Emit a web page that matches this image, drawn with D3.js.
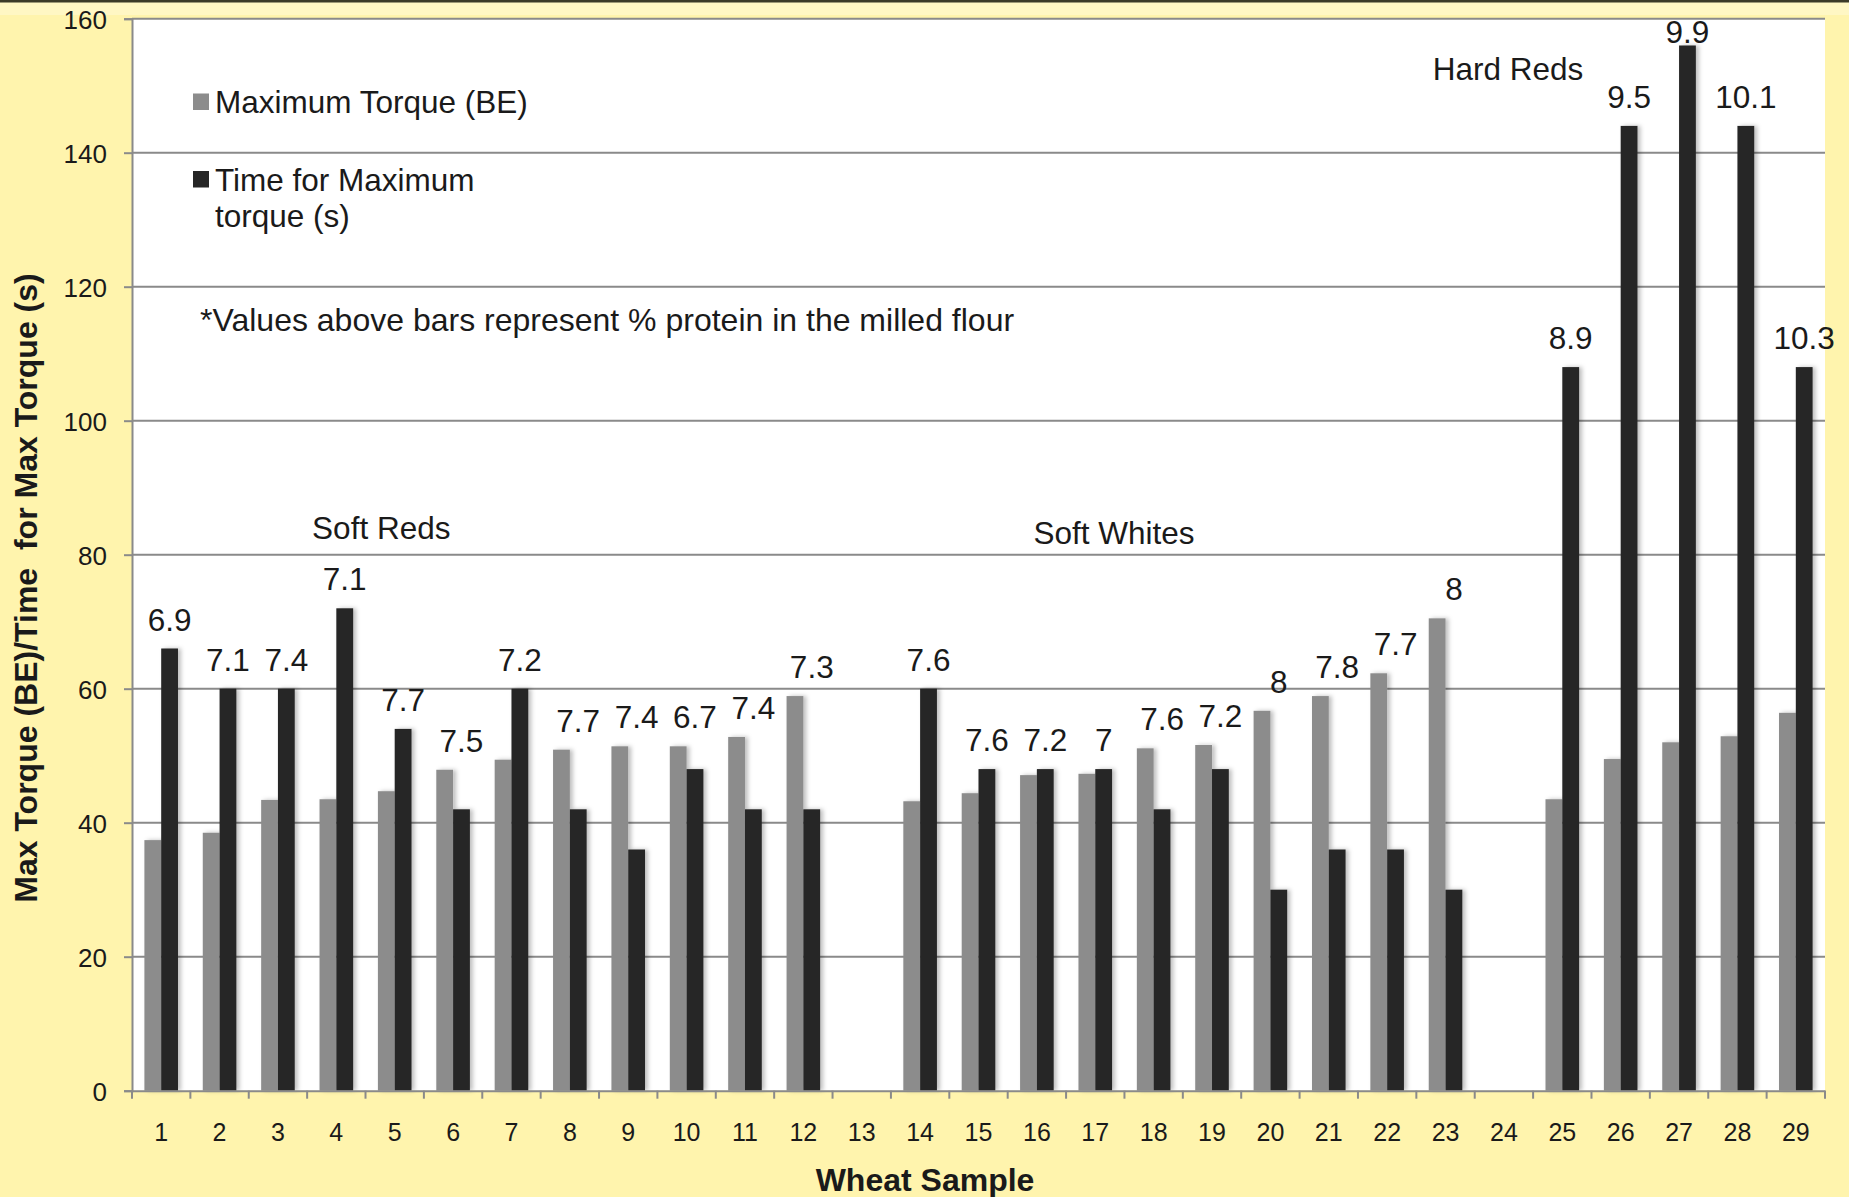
<!DOCTYPE html>
<html>
<head>
<meta charset="utf-8">
<script src="https://cdn.jsdelivr.net/npm/d3@7"></script>
<style>
  html, body { margin: 0; padding: 0; background: #FFF4AD; }
  svg { display: block; }
  text { font-family: "Liberation Sans", Arial, sans-serif; fill: #1a1a1a; }
</style>
</head>
<body>
<script>
// ---- data ----
const samples = [1,2,3,4,5,6,7,8,9,10,11,12,13,14,15,16,17,18,19,20,21,22,23,24,25,26,27,28,29];
const maxTorque = [37.4,38.5,43.4,43.5,44.7,47.9,49.4,50.9,51.4,51.4,52.8,58.9,null,43.2,44.4,47.1,47.3,51.1,51.6,56.7,58.9,62.3,70.5,null,43.5,49.5,52.0,52.9,56.4];
const timeMaxTorque = [66,60,60,72,54,42,60,42,36,48,42,42,null,60,48,48,48,42,48,30,36,36,30,null,108,144,156,144,108];
const protein = ["6.9","7.1","7.4","7.1","7.7","7.5","7.2","7.7","7.4","6.7","7.4","7.3",null,"7.6","7.6","7.2","7","7.6","7.2","8","7.8","7.7","8",null,"8.9","9.5","9.9","10.1","10.3"];
const yTicks = [0,20,40,60,80,100,120,140,160];
const seriesNames = ["Maximum Torque (BE)", "Time for Maximum torque (s)"];
const groupNames = ["Soft Reds", "Soft Whites", "Hard Reds"];
const groupAt = [5, 17, 24];          // sample under the group label
const groupValue = [82.4, 81.6, 150.8]; // value level of the group label

// ---- layout ----
const W = 1849, H = 1197;
const mLeft = 132, mRight = 1825, mTop = 18.7, mBottom = 1090.7;
const colGray = "#8c8c8c", colBlack = "#262626", gridCol = "#8a8a8a";
const groupShift = [0.27, 0.82, 0.57];

const svg = d3.select("body").append("svg").attr("width", W).attr("height", H);

const defs = svg.append("defs");
const f = defs.append("filter").attr("id", "sh").attr("x", "-50%").attr("y", "-5%").attr("width", "200%").attr("height", "110%");
f.append("feDropShadow").attr("dx", 3).attr("dy", 0).attr("stdDeviation", 2).attr("flood-color", "#000").attr("flood-opacity", 0.25);

// top strip
svg.append("rect").attr("x", 0).attr("y", 0).attr("width", W).attr("height", 15).attr("fill", "#FFF7C4");
svg.append("rect").attr("x", 0).attr("y", 0).attr("width", W).attr("height", 2.5).attr("fill", "#3b3a28");

const x = d3.scaleBand().domain(samples).range([mLeft, mRight]).paddingInner(0).paddingOuter(0);
const x1 = d3.scaleBand().domain([0,1]).range([0, x.bandwidth()]).paddingInner(0).paddingOuter(0.738);
const y = d3.scaleLinear().domain([0,160]).range([mBottom, mTop]);

// plot area
svg.append("rect").attr("x", mLeft).attr("y", mTop).attr("width", mRight-mLeft).attr("height", mBottom-mTop).attr("fill", "#fff");

// gridlines
svg.append("g").selectAll("line").data(yTicks.filter(d => d > 0)).join("line")
  .attr("x1", mLeft).attr("x2", mRight).attr("y1", d => y(d)).attr("y2", d => y(d))
  .attr("stroke", gridCol).attr("stroke-width", 2);

// bars
const bars = svg.append("g").attr("filter", "url(#sh)");
samples.forEach((s, i) => {
  [maxTorque[i], timeMaxTorque[i]].forEach((v, k) => {
    if (v == null) return;
    bars.append("rect")
      .attr("x", x(s) + x1(k)).attr("width", x1.bandwidth())
      .attr("y", y(v)).attr("height", y(0) - y(v))
      .attr("fill", k === 0 ? colGray : colBlack);
  });
});

// y axis
const yAxis = svg.append("g").attr("transform", `translate(${mLeft},0)`)
  .call(d3.axisLeft(y).tickValues(yTicks).tickSize(8).tickPadding(17).tickFormat(d3.format("d")));
yAxis.select(".domain").attr("stroke", gridCol).attr("stroke-width", 2);
yAxis.selectAll(".tick line").attr("stroke", gridCol).attr("stroke-width", 2);
yAxis.selectAll(".tick text").style("font-size", "26px").style("font-family", "Liberation Sans, Arial, sans-serif").attr("fill", "#1a1a1a").attr("dy", "0.36em");

// x axis
const xAxis = svg.append("g").attr("transform", `translate(0,${mBottom})`)
  .call(d3.axisBottom(x).tickSize(0).tickPadding(38));
xAxis.select(".domain").attr("stroke", gridCol).attr("stroke-width", 2);
xAxis.selectAll(".tick text").style("font-size", "25px").style("font-family", "Liberation Sans, Arial, sans-serif").attr("fill", "#1a1a1a").attr("dy", "0.5em");
const bounds = samples.map(s => x(s)).concat([mRight]);
xAxis.append("g").selectAll("line").data(bounds).join("line")
  .attr("x1", d => d).attr("x2", d => d).attr("y1", 0).attr("y2", 8)
  .attr("stroke", gridCol).attr("stroke-width", 2);

// data labels (protein %)
svg.append("g").selectAll("text").data(samples.map((s, i) => ({s, i})).filter(d => protein[d.i] != null)).join("text")
  .attr("x", d => x(d.s) + x1(1) + x1.bandwidth()/2)
  .attr("y", d => Math.max(43, y(Math.max(maxTorque[d.i], timeMaxTorque[d.i])) - 18))
  .attr("text-anchor", "middle").style("font-size", "31.5px")
  .text(d => protein[d.i]);

// group labels
svg.append("g").selectAll("text").data(groupNames).join("text")
  .attr("x", (d, i) => x(groupAt[i]) + x.bandwidth() * groupShift[i])
  .attr("y", (d, i) => y(groupValue[i]))
  .attr("text-anchor", "middle").style("font-size", "31.5px")
  .text(d => d);

// legend
const lg = svg.append("g");
lg.append("rect").attr("x", 193).attr("y", 93.5).attr("width", 16).attr("height", 16.5).attr("fill", colGray);
lg.append("text").attr("x", 215).attr("y", 112.5).style("font-size", "31.5px").text(seriesNames[0]);
lg.append("rect").attr("x", 193).attr("y", 171).attr("width", 16).attr("height", 16.5).attr("fill", colBlack);
lg.append("text").attr("x", 215).attr("y", 190.5).style("font-size", "31.5px").text("Time for Maximum");
lg.append("text").attr("x", 215).attr("y", 227).style("font-size", "31.5px").text("torque (s)");

// note
svg.append("text").attr("x", 200).attr("y", 331).style("font-size", "32px")
  .text("*Values above bars represent % protein in the milled flour");

// axis titles
svg.append("text").attr("transform", `translate(37,588) rotate(-90)`)
  .attr("text-anchor", "middle").style("font-size", "32px").style("font-weight", "bold")
  .style("white-space", "pre")
  .text("Max Torque (BE)/Time  for Max Torque (s)");
svg.append("text").attr("x", 925).attr("y", 1191)
  .attr("text-anchor", "middle").style("font-size", "32px").style("font-weight", "bold")
  .text("Wheat Sample");
</script>
</body>
</html>
